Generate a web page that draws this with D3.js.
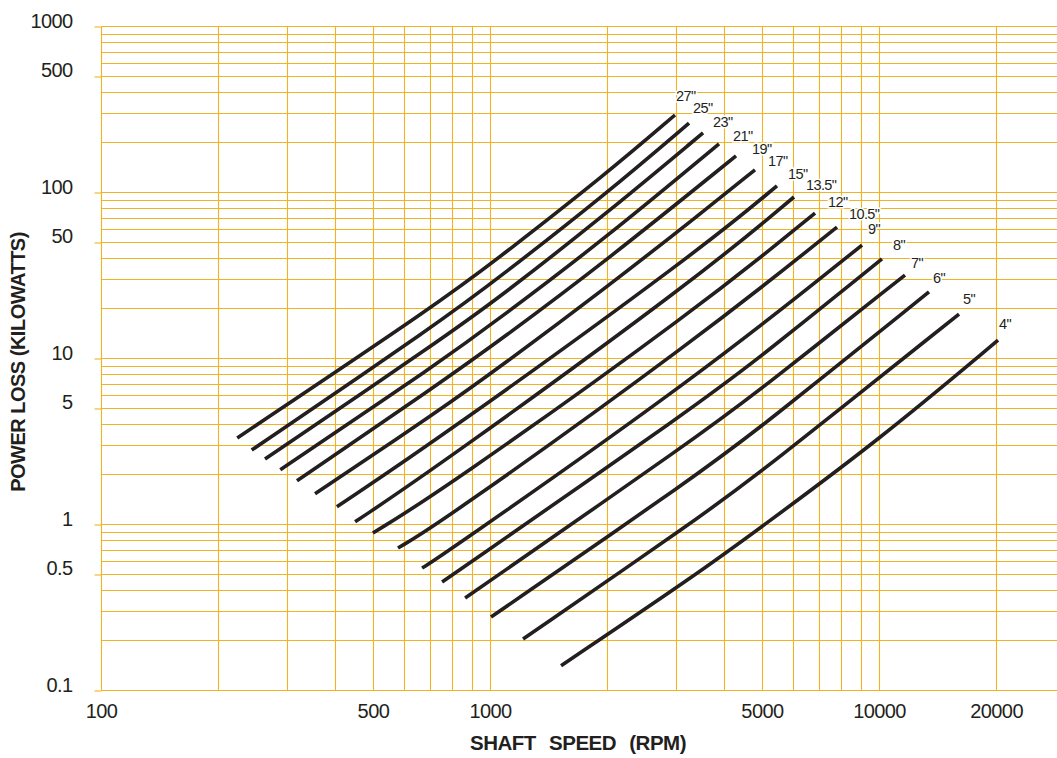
<!DOCTYPE html>
<html>
<head>
<meta charset="utf-8">
<script src="https://cdn.jsdelivr.net/npm/d3@7"></script>
<style>
  html, body { margin: 0; padding: 0; background: #ffffff; }
  svg { display: block; }
  text { font-family: "Liberation Sans", Arial, Helvetica, sans-serif; fill: #231f20; }
</style>
</head>
<body>
<svg id="chart" width="1057" height="758"></svg>
<script>
// ---------------- DATA ----------------
const curveLabels = ['27"', '25"', '23"', '21"', '19"', '17"', '15"', '13.5"', '12"', '10.5"', '9"', '8"', '7"', '6"', '5"', '4"'];

// shaft speed (RPM)
const curveSpeeds = [
  [224, 744, 1061, 2000, 2989],
  [244, 744, 1061, 2000, 3248],
  [264, 744, 1061, 2000, 3529],
  [289, 744, 1061, 2000, 3879],
  [319, 744, 1061, 2000, 4290],
  [355, 744, 1061, 2000, 3467, 4800],
  [404, 744, 3467, 5467],
  [450, 744, 3467, 6046],
  [500, 744, 3467, 6848],
  [580, 744, 3467, 7798],
  [669, 744, 3467, 9045],
  [753, 3467, 4945, 10178],
  [863, 3467, 4945, 11663],
  [1006, 3467, 4945, 13443],
  [1216, 3467, 4945, 16060],
  [1523, 3467, 4945, 10000, 20230]
];

// power loss (kW) read at the same points
const curveLosses = [
  [3.30, 21.7, 40.6, 130, 291],
  [2.79, 16.5, 30.8, 98.6, 260],
  [2.46, 12.8, 23.3, 74.7, 227],
  [2.12, 9.46, 17.4, 53.6, 195],
  [1.82, 7.07, 12.8, 38.9, 165],
  [1.52, 4.86, 8.83, 26.8, 73.7, 136],
  [1.27, 3.30, 44.7, 109],
  [1.03, 2.27, 31.2, 93.3],
  [0.883, 1.56, 20.3, 74.7],
  [0.717, 1.01, 13.4, 61.5],
  [0.543, 0.633, 7.90, 47.9],
  [0.447, 5.36, 10.1, 39.5],
  [0.358, 3.44, 6.42, 31.6],
  [0.275, 2.03, 3.79, 25.0],
  [0.203, 1.10, 2.03, 18.4],
  [0.140, 0.514, 0.946, 3.21, 12.8]
];

const xTickValues = [100, 500, 1000, 5000, 10000, 20000];
const xTickLabels = ["100", "500", "1000", "5000", "10000", "20000"];
const yTickValues = [0.1, 0.5, 1, 5, 10, 50, 100, 500, 1000];
const yTickLabels = ["0.1", "0.5", "1", "5", "10", "50", "100", "500", "1000"];

const xTitle = "SHAFT SPEED (RPM)";
const yTitle = "POWER LOSS (KILOWATTS)";

// label nudges (layout only): offset of each size label from its curve end
const labelNudge = [
  [1, -14], [4, -10], [10, -6], [14, -3], [16, -2], [13, -4], [11, -7], [12, -7],
  [13, -6], [12, -8], [6, -11], [11, -9], [6, -7], [4, -9], [4, -10], [1, -11]
];

// ---------------- CHART ----------------
const W = 1057, H = 758;
const gridColor = "#f0b324";
const svg = d3.select("#chart");
svg.append("rect").attr("width", W).attr("height", H).attr("fill", "#fff");

const x = d3.scaleLog().domain([100, 10000]).range([101, 879]);
const y = d3.scaleLog().domain([0.1, 1000]).range([690, 26]);

// grid values
const xGrid = [];
[100, 1000].forEach(d => { for (let m = 1; m <= 9; m++) xGrid.push(d * m); });
xGrid.push(10000, 20000);
const yGrid = [];
[0.1, 1, 10, 100].forEach(d => { for (let m = 1; m <= 9; m++) yGrid.push(+(d * m).toPrecision(3)); });
yGrid.push(1000);

const crisp = v => Math.round(v) + 0.5;

const grid = svg.append("g").attr("stroke", gridColor).attr("stroke-width", 1.1);
grid.selectAll("line.h").data(yGrid).join("line").attr("class", "h")
  .attr("x1", crisp(x(100))).attr("x2", W)
  .attr("y1", d => crisp(y(d))).attr("y2", d => crisp(y(d)));
grid.selectAll("line.v").data(xGrid).join("line").attr("class", "v")
  .attr("y1", crisp(y(1000))).attr("y2", crisp(y(0.1)))
  .attr("x1", d => crisp(x(d))).attr("x2", d => crisp(x(d)));

// axes
const yAxis = d3.axisLeft(y).tickValues(yTickValues)
  .tickFormat((d, i) => yTickLabels[i]).tickSize(7).tickSizeOuter(0);
const gy = svg.append("g").attr("transform", `translate(${crisp(x(100))},0)`).call(yAxis);
gy.select(".domain").remove();
gy.selectAll(".tick line").attr("stroke", gridColor).attr("stroke-width", 1.1)
  .attr("transform", "translate(0,0.5)");
gy.selectAll(".tick text").attr("x", -29).attr("dy", "0.05em")
  .attr("font-size", 20).attr("letter-spacing", "-0.6px").attr("fill", "#231f20")
  .style("font-family", '"Liberation Sans", Arial, sans-serif');

const xAxis = d3.axisBottom(x).tickValues(xTickValues)
  .tickFormat((d, i) => xTickLabels[i]).tickSize(0).tickSizeOuter(0);
const gx = svg.append("g").attr("transform", `translate(0,${y(0.1)})`).call(xAxis);
gx.select(".domain").remove();
gx.selectAll(".tick text").attr("y", 28).attr("dy", "0")
  .attr("font-size", 20).attr("letter-spacing", "-0.6px").attr("fill", "#231f20")
  .style("font-family", '"Liberation Sans", Arial, sans-serif');

// curves
const line = d3.line().x(d => x(d[0])).y(d => y(d[1])).curve(d3.curveBasis);
const series = curveLabels.map((lab, i) => ({
  label: lab,
  pts: curveSpeeds[i].map((s, j) => [s, curveLosses[i][j]]),
  nudge: labelNudge[i]
}));

svg.append("g").selectAll("path").data(series).join("path")
  .attr("d", d => line(d.pts))
  .attr("fill", "none").attr("stroke", "#231f20").attr("stroke-width", 3.6);

svg.append("g").selectAll("text").data(series).join("text")
  .attr("x", d => x(d.pts[d.pts.length - 1][0]) + d.nudge[0])
  .attr("y", d => y(d.pts[d.pts.length - 1][1]) + d.nudge[1])
  .attr("font-size", 14.5).attr("letter-spacing", "-0.6px")
  .attr("stroke", "#fff").attr("stroke-width", 3).attr("paint-order", "stroke")
  .text(d => d.label);

// axis titles
svg.append("text").attr("x", 578).attr("y", 750).attr("text-anchor", "middle")
  .attr("font-size", 20.5).attr("font-weight", "bold").attr("letter-spacing", "-0.5px")
  .attr("word-spacing", "8px").text(xTitle);
svg.append("text").attr("transform", "translate(25,362) rotate(-90)").attr("text-anchor", "middle")
  .attr("font-size", 20).attr("font-weight", "bold").attr("letter-spacing", "-0.5px")
  .text(yTitle);
</script>
</body>
</html>
